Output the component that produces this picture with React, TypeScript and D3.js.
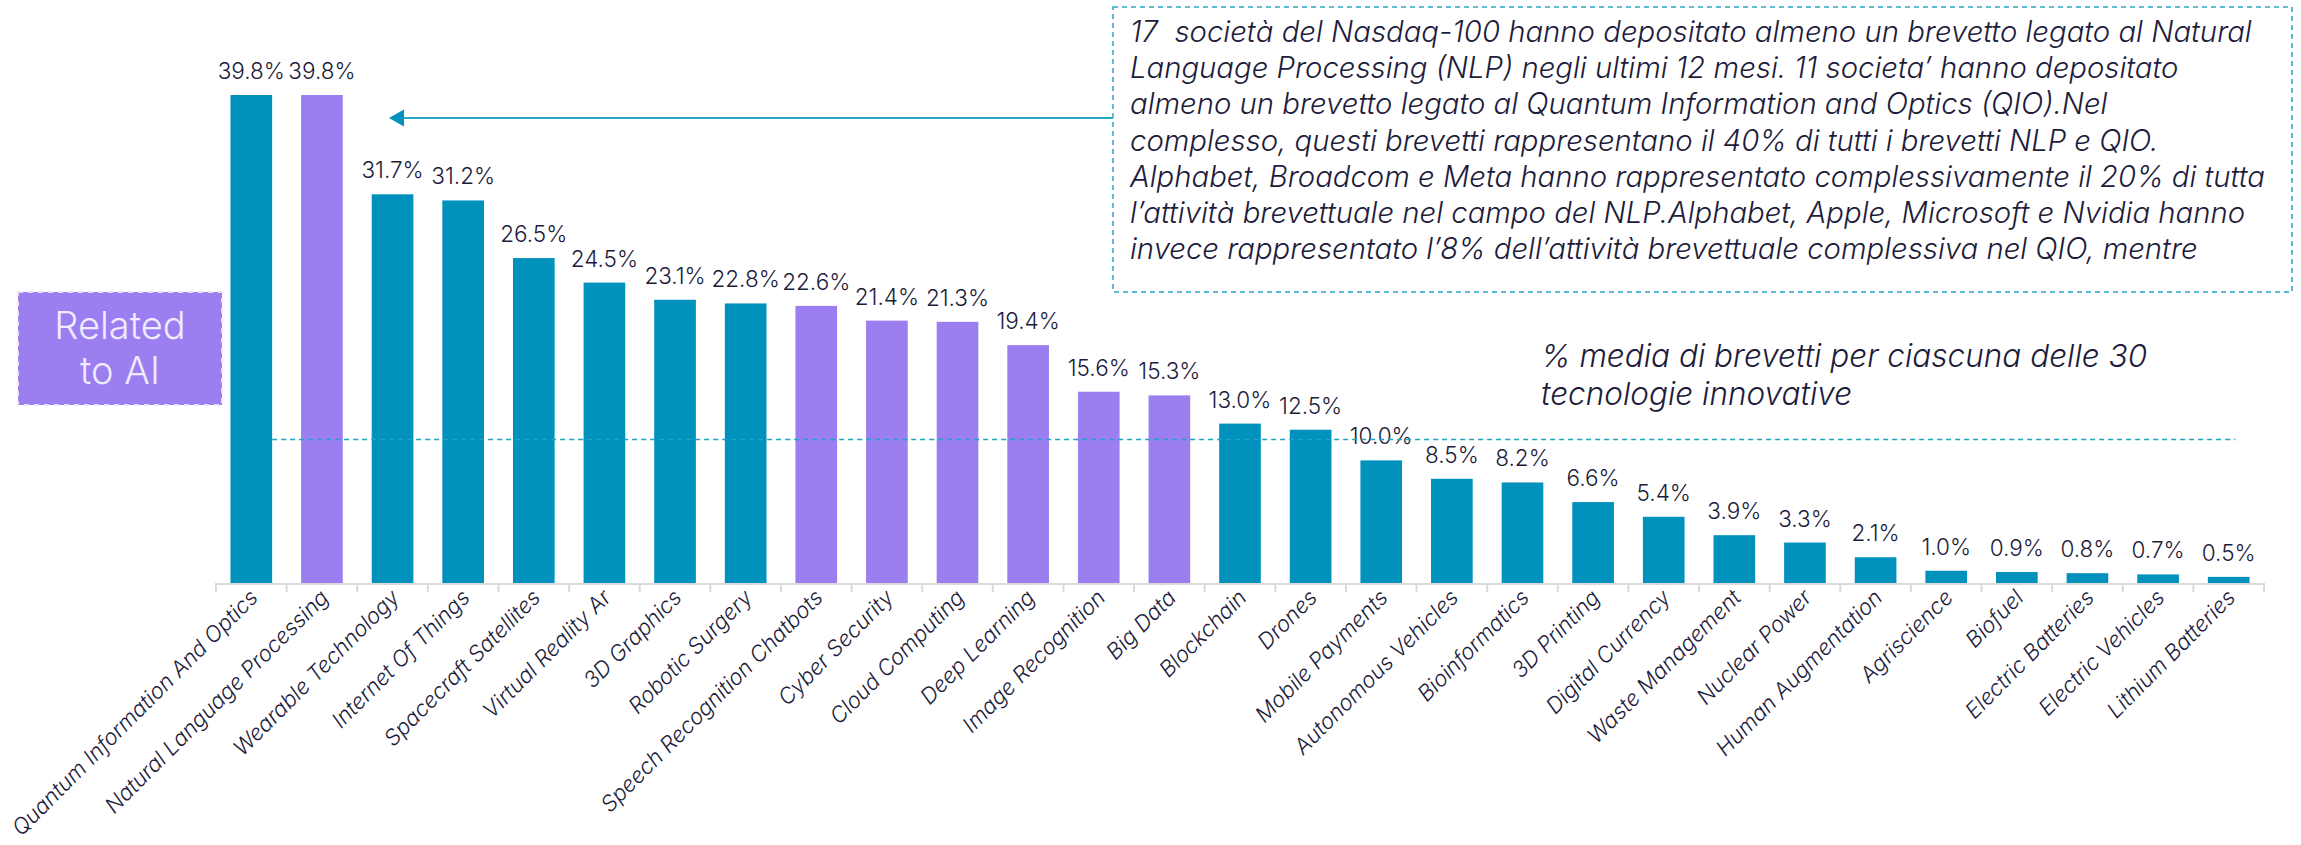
import * as d3 from "d3";
import React from "react";

// values (share of patents, %)
const categories = [
  "Quantum Information And Optics",
  "Natural Language Processing",
  "Wearable Technology",
  "Internet Of Things",
  "Spacecraft Satellites",
  "Virtual Reality Ar",
  "3D Graphics",
  "Robotic Surgery",
  "Speech Recognition Chatbots",
  "Cyber Security",
  "Cloud Computing",
  "Deep Learning",
  "Image Recognition",
  "Big Data",
  "Blockchain",
  "Drones",
  "Mobile Payments",
  "Autonomous Vehicles",
  "Bioinformatics",
  "3D Printing",
  "Digital Currency",
  "Waste Management",
  "Nuclear Power",
  "Human Augmentation",
  "Agriscience",
  "Biofuel",
  "Electric Batteries",
  "Electric Vehicles",
  "Lithium Batteries",
];

const values = [
  39.8, 39.8, 31.7, 31.2, 26.5, 24.5, 23.1, 22.8, 22.6, 21.4, 21.3, 19.4, 15.6,
  15.3, 13.0, 12.5, 10.0, 8.5, 8.2, 6.6, 5.4, 3.9, 3.3, 2.1, 1.0, 0.9, 0.8, 0.7,
  0.5,
];

// technologies flagged as AI related (purple)
const aiRelated = [
  "Natural Language Processing",
  "Speech Recognition Chatbots",
  "Cyber Security",
  "Cloud Computing",
  "Deep Learning",
  "Image Recognition",
  "Big Data",
];

const averageValue = 11.7;

const noteLines = [
  "17  società del Nasdaq-100 hanno depositato almeno un brevetto legato al Natural",
  "Language Processing (NLP) negli ultimi 12 mesi. 11 societa’ hanno depositato",
  "almeno un brevetto legato al Quantum Information and Optics (QIO).Nel",
  "complesso, questi brevetti rappresentano il 40% di tutti i brevetti NLP e QIO.",
  "Alphabet, Broadcom e Meta hanno rappresentato complessivamente il 20% di tutta",
  "l’attività brevettuale nel campo del NLP.Alphabet, Apple, Microsoft e Nvidia hanno",
  "invece rappresentato l’8% dell’attività brevettuale complessiva nel QIO, mentre",
];

const averageLines = [
  "% media di brevetti per ciascuna delle 30",
  "tecnologie innovative",
];

const badgeLines = ["Related", "to AI"];

const TEAL = "#0091bd";
const PURPLE = "#9b7ef0";
const INK = "#1d1c3b";
const FONT = "Inter, 'Noto Sans', sans-serif";

export default function App() {
  const width = 2301;
  const height = 845;
  const baseline = 583;

  const x = d3
    .scaleBand<string>()
    .domain(categories)
    .range([216, 2264])
    .paddingInner(0.41)
    .paddingOuter(0.205);

  const y = d3.scaleLinear().domain([0, 39.8]).range([baseline, 95]);

  const step = x.step();
  const tickXs = d3.range(categories.length + 1).map((i) => 216 + i * step);

  const last = categories[categories.length - 1];
  const avgY = y(averageValue);
  const avgX1 = (x(categories[0]) ?? 0) + x.bandwidth();
  const avgX2 = (x(last) ?? 0) + x.bandwidth() * 0.66;

  return (
    <svg
      width={width}
      height={height}
      style={{ position: "absolute", left: 0, top: 0, background: "#fff" }}
      fontFamily={FONT}
    >
      {/* bars */}
      {categories.map((c, i) => (
        <rect
          key={c}
          x={x(c)}
          y={y(values[i])}
          width={x.bandwidth()}
          height={baseline - y(values[i])}
          fill={aiRelated.includes(c) ? PURPLE : TEAL}
        />
      ))}

      {/* axis */}
      <line x1={216} x2={2264} y1={baseline + 1} y2={baseline + 1} stroke="#d9d9d9" strokeWidth={2} />
      {tickXs.map((t, i) => (
        <line key={i} x1={t} x2={t} y1={baseline} y2={baseline + 9} stroke="#d9d9d9" strokeWidth={2} />
      ))}

      {/* category labels */}
      {categories.map((c) => {
        const cx = (x(c) ?? 0) + x.bandwidth() / 2;
        return (
          <text
            key={c}
            transform={`translate(${cx + 8},${baseline + 16}) rotate(-45)`}
            textAnchor="end"
            fontSize={22}
            fontStyle="italic"
            fontWeight={300}
            fill={INK}
          >
            {c}
          </text>
        );
      })}

      {/* value labels */}
      {categories.map((c, i) => (
        <text
          key={c}
          x={(x(c) ?? 0) + x.bandwidth() / 2}
          y={y(values[i]) - 16}
          textAnchor="middle"
          fontSize={22.5}
          fontWeight={300}
          fill={INK}
        >
          {values[i].toFixed(1)}%
        </text>
      ))}

      {/* average line */}
      <line
        x1={avgX1}
        x2={avgX2}
        y1={avgY}
        y2={avgY}
        stroke="#1ea3c9"
        strokeWidth={1.5}
        strokeDasharray="5 4"
      />
      {averageLines.map((l, i) => (
        <text key={l} x={1541} y={367 + i * 38} fontSize={31.5} fontStyle="italic" fontWeight={300} fill={INK}>
          {l}
        </text>
      ))}

      {/* Related to AI badge */}
      <rect
        x={18}
        y={292}
        width={204}
        height={113}
        fill={PURPLE}
        stroke="#e6e2ff"
        strokeWidth={2}
        strokeDasharray="5 5"
      />
      {badgeLines.map((l, i) => (
        <text key={l} x={120} y={339 + i * 45} textAnchor="middle" fontSize={38} fontWeight={300} fill="#eeecff">
          {l}
        </text>
      ))}

      {/* annotation box and arrow */}
      <rect
        x={1113}
        y={7}
        width={1179}
        height={285}
        fill="none"
        stroke="#2aa6c9"
        strokeWidth={1.5}
        strokeDasharray="5 4"
      />
      <line x1={402} x2={1113} y1={118} y2={118} stroke="#2aa6c9" strokeWidth={2} />
      <path d="M389,118 L404,109.5 L404,126.5 Z" fill={TEAL} />
      {noteLines.map((l, i) => (
        <text
          key={i}
          x={1130}
          y={42 + i * 36.2}
          fontSize={29.3}
          fontStyle="italic"
          fontWeight={300}
          fill={INK}
          style={{ whiteSpace: "pre" }}
        >
          {l}
        </text>
      ))}
    </svg>
  );
}
